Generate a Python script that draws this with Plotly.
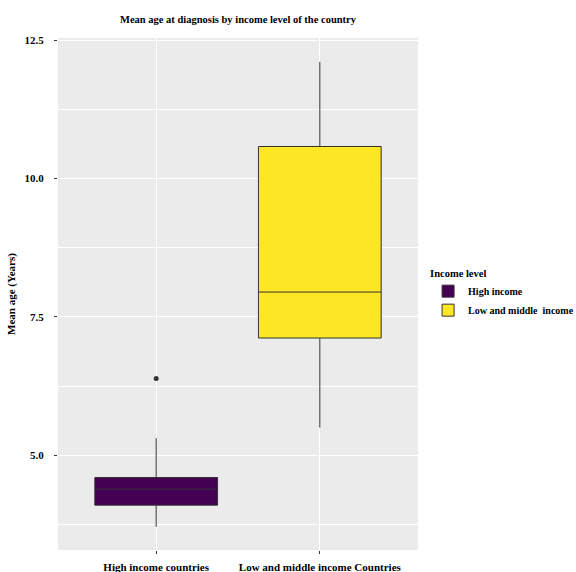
import plotly.graph_objects as go

categories = ["High income countries", "Low and middle income Countries"]
legend_names = ["High income", "Low and middle  income"]
colors = ["#440154", "#FDE725"]
q1 = [4.10, 7.12]
median = [4.39, 7.95]
q3 = [4.60, 10.58]
lower_whisker = [3.71, 5.50]
upper_whisker = [5.31, 12.11]
outlier_cat = ["High income countries"]
outlier_val = [6.39]

FONT = "Liberation Serif"

fig = go.Figure()
for i in range(len(categories)):
    fig.add_trace(go.Box(
        x=[categories[i]], q1=[q1[i]], median=[median[i]], q3=[q3[i]],
        lowerfence=[lower_whisker[i]], upperfence=[upper_whisker[i]],
        name="<b>" + legend_names[i] + "</b>", fillcolor=colors[i],
        line=dict(color="#333333", width=1), whiskerwidth=0,
        width=0.75, boxpoints=False, showlegend=True,
    ))
fig.add_trace(go.Scatter(
    x=outlier_cat, y=outlier_val, mode="markers",
    marker=dict(color="#333333", size=5), showlegend=False, hoverinfo="y",
))

fig.update_layout(
    width=576, height=572,
    paper_bgcolor="white", plot_bgcolor="#EBEBEB",
    margin=dict(l=58, r=158, t=38, b=22, autoexpand=False),
    boxmode="overlay",
    font=dict(family=FONT, color="black", size=11),
    title=dict(text="<b>Mean age at diagnosis by income level of the country</b>",
               x=(58 + 418) / 2 / 576, xanchor="center", y=1 - 19 / 572, yanchor="middle",
               font=dict(family=FONT, size=10.5, color="black")),
    legend=dict(title=dict(text="<b>Income level</b>", font=dict(family=FONT, size=10.5)),
                x=1.028, xanchor="left", y=0.5, yanchor="middle",
                font=dict(family=FONT, size=10), bgcolor="rgba(0,0,0,0)",
                tracegroupgap=4),
)
fig.update_xaxes(
    type="category", categoryorder="array", categoryarray=categories,
    range=[-0.6, 1.6], showgrid=True, gridcolor="white", gridwidth=1,
    ticks="outside", ticklen=3, tickcolor="#333333", zeroline=False,
    tickfont=dict(family=FONT, size=11, color="black"),
    tickprefix="<b>", ticksuffix="</b>", ticklabelstandoff=4,
)
fig.update_yaxes(
    range=[3.29, 12.54], tickvals=[5.0, 7.5, 10.0, 12.5],
    ticktext=["<b>5.0</b>", "<b>7.5</b>", "<b>10.0</b>", "<b>12.5</b>"],
    showgrid=True, gridcolor="white", gridwidth=1.1,
    minor=dict(tickvals=[3.75, 6.25, 8.75, 11.25], showgrid=True, gridcolor="white", gridwidth=0.5),
    ticks="outside", ticklen=3, tickcolor="#333333", zeroline=False,
    tickfont=dict(family=FONT, size=11, color="black"), ticklabelstandoff=8,
    title=dict(text="<b>Mean age (Years)</b>", font=dict(family=FONT, size=11), standoff=6),
)

fig.write_html("out.html", config={"displayModeBar": False})
with open("out.html", encoding="utf-8") as f:
    html = f.read()
html = html.replace("<body>", '<body style="margin:0;padding:0;">', 1)
with open("out.html", "w", encoding="utf-8") as f:
    f.write(html)
